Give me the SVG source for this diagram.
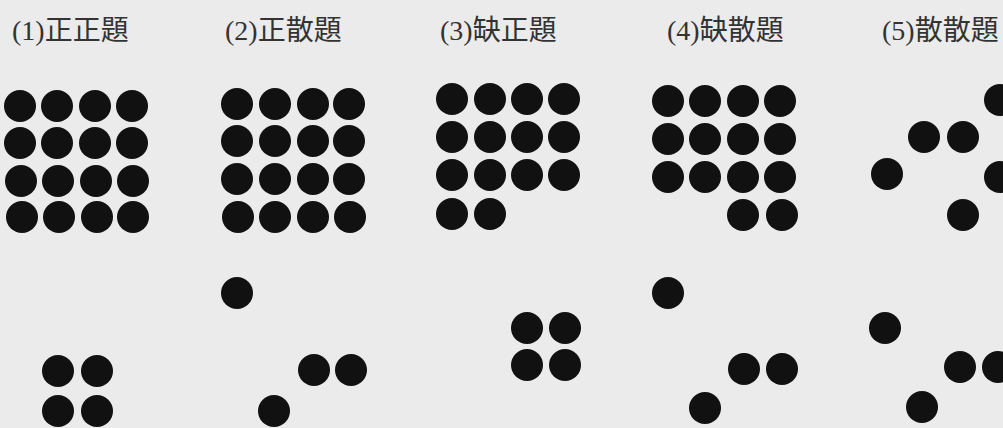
<svg xmlns="http://www.w3.org/2000/svg" width="1003" height="428" viewBox="0 0 1003 428">
<style>
.bg{fill:#ebebeb}
.t{font-family:"Liberation Serif","Noto Sans CJK JP",serif;font-size:28px;fill:#333}
.d{fill:#111}
</style>
<defs><circle id="c" r="16"/></defs>
<rect class="bg" x="0" y="0" width="1003" height="428"/>
<g id="panel1">
<text class="t" x="12" y="40">(1)正正題</text>
<g class="d">
<use href="#c" x="20" y="106"/><use href="#c" x="57" y="106"/><use href="#c" x="95" y="106"/><use href="#c" x="132" y="106"/>
<use href="#c" x="20" y="143"/><use href="#c" x="57" y="143"/><use href="#c" x="95" y="143"/><use href="#c" x="132" y="143"/>
<use href="#c" x="21" y="181"/><use href="#c" x="58" y="181"/><use href="#c" x="96" y="181"/><use href="#c" x="133" y="181"/>
<use href="#c" x="22" y="217"/><use href="#c" x="59" y="217"/><use href="#c" x="97" y="217"/><use href="#c" x="133" y="217"/>
<use href="#c" x="58" y="371"/><use href="#c" x="97" y="371"/>
<use href="#c" x="58" y="411"/><use href="#c" x="97" y="411"/>
</g>
</g>
<g id="panel2">
<text class="t" x="225" y="40">(2)正散題</text>
<g class="d">
<use href="#c" x="237" y="104"/><use href="#c" x="275" y="104"/><use href="#c" x="313" y="104"/><use href="#c" x="349" y="104"/>
<use href="#c" x="237" y="141"/><use href="#c" x="275" y="141"/><use href="#c" x="313" y="141"/><use href="#c" x="349" y="141"/>
<use href="#c" x="237" y="179"/><use href="#c" x="275" y="179"/><use href="#c" x="313" y="179"/><use href="#c" x="349" y="179"/>
<use href="#c" x="238" y="217"/><use href="#c" x="275" y="217"/><use href="#c" x="313" y="217"/><use href="#c" x="350" y="217"/>
<use href="#c" x="237" y="293"/>
<use href="#c" x="314" y="370"/><use href="#c" x="351" y="370"/>
<use href="#c" x="274" y="411"/>
</g>
</g>
<g id="panel3">
<text class="t" x="440" y="40">(3)缺正題</text>
<g class="d">
<use href="#c" x="452" y="99"/><use href="#c" x="490" y="99"/><use href="#c" x="527" y="99"/><use href="#c" x="564" y="99"/>
<use href="#c" x="452" y="137"/><use href="#c" x="490" y="137"/><use href="#c" x="527" y="137"/><use href="#c" x="564" y="137"/>
<use href="#c" x="452" y="175"/><use href="#c" x="490" y="175"/><use href="#c" x="527" y="175"/><use href="#c" x="564" y="175"/>
<use href="#c" x="452" y="214"/><use href="#c" x="490" y="214"/>
<use href="#c" x="527" y="328"/><use href="#c" x="565" y="328"/>
<use href="#c" x="527" y="365"/><use href="#c" x="565" y="365"/>
</g>
</g>
<g id="panel4">
<text class="t" x="667" y="40">(4)缺散題</text>
<g class="d">
<use href="#c" x="668" y="101"/><use href="#c" x="705" y="101"/><use href="#c" x="743" y="101"/><use href="#c" x="780" y="101"/>
<use href="#c" x="668" y="139"/><use href="#c" x="705" y="139"/><use href="#c" x="743" y="139"/><use href="#c" x="780" y="139"/>
<use href="#c" x="668" y="177"/><use href="#c" x="705" y="177"/><use href="#c" x="743" y="177"/><use href="#c" x="780" y="177"/>
<use href="#c" x="743" y="215"/><use href="#c" x="782" y="215"/>
<use href="#c" x="668" y="293"/>
<use href="#c" x="744" y="369"/><use href="#c" x="782" y="369"/>
<use href="#c" x="705" y="408"/>
</g>
</g>
<g id="panel5">
<text class="t" x="882" y="40">(5)散散題</text>
<g class="d">
<use href="#c" x="1000" y="100"/>
<use href="#c" x="924" y="137"/><use href="#c" x="963" y="137"/>
<use href="#c" x="887" y="174"/><use href="#c" x="1000" y="177"/>
<use href="#c" x="963" y="215"/>
<use href="#c" x="885" y="328"/>
<use href="#c" x="960" y="367"/><use href="#c" x="998" y="367"/>
<use href="#c" x="922" y="407"/>
</g>
</g>
</svg>
